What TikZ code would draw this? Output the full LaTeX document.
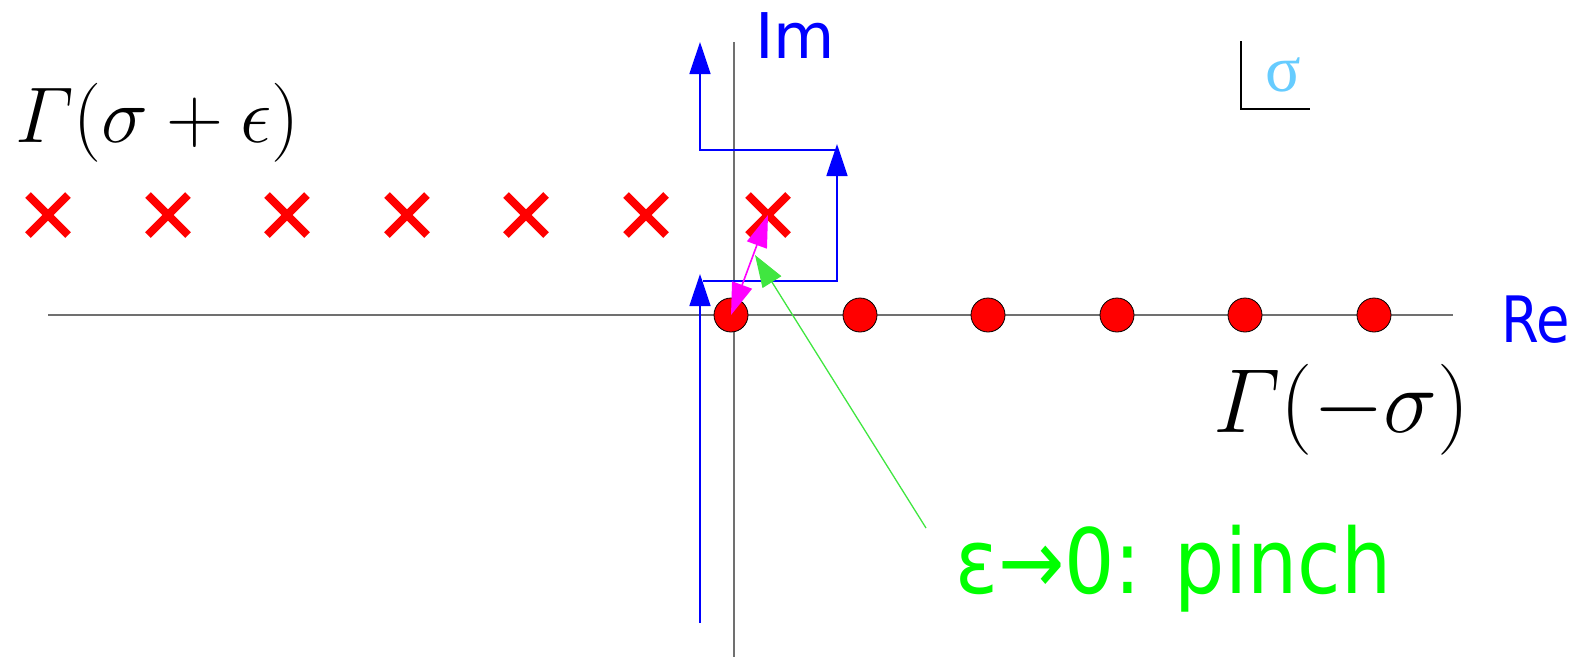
\RequirePackage{fix-cm}
\documentclass[tikz,border=0pt]{standalone}
\usepackage{amsmath}
\usepackage{fontspec}
\newfontfamily\comicf{DejaVu Sans}
\newfontfamily\serifg{Liberation Serif}
\usetikzlibrary{arrows.meta,shapes.misc}
\definecolor{axisgray}{RGB}{112,112,112}
\definecolor{sigblue}{RGB}{102,204,255}
\definecolor{pinchgreen}{RGB}{0,255,0}
\definecolor{arrgreen}{RGB}{64,230,64}
\definecolor{pinkarr}{RGB}{255,0,255}
\begin{document}
\begin{tikzpicture}[x=1pt,y=-1pt,
  axisline/.style={draw=axisgray,line width=2pt},
  contour/.style={draw=blue,line width=1.6pt,-{Triangle[length=32pt,width=21pt]}},
  pole/.style={circle,fill=red,draw=black,line width=0.8pt,minimum size=34pt,inner sep=0pt},
  zeromark/.style={cross out,draw=red,line width=8pt,minimum size=32pt,inner sep=0pt},
  pincharrow/.style={draw=pinkarr,line width=1.6pt,{Triangle[length=32pt,width=21pt]}-{Triangle[length=32pt,width=21pt]}},
  greenarrow/.style={draw=arrgreen,line width=1.3pt,-{Triangle[length=32pt,width=22pt]}},
  comictext/.style={inner sep=0pt,anchor=base west,text=blue},
  mathtext/.style={inner sep=0pt,anchor=base west,text=black}
]
\useasboundingbox (0,0) rectangle (1581,657);
% axes
\coordinate (reL) at (48,315);
\coordinate (reR) at (1453,315);
\coordinate (imT) at (734,42);
\coordinate (imB) at (734,657);
\draw[axisline] (reL) -- (reR);
\draw[axisline] (imT) -- (imB);
% contour
\coordinate (c0) at (700,623);
\coordinate (c1) at (700,274);
\coordinate (c2) at (703,281);
\coordinate (c3) at (837,281);
\coordinate (c4) at (837,144);
\coordinate (c5) at (837,150);
\coordinate (c6) at (700,150);
\coordinate (c7) at (700,42);
\draw[contour] (c0) -- (c1);
\draw[contour] (c2) -- (c3) -- (c4);
\draw[contour] (c5) -- (c6) -- (c7);
% poles of Gamma(-sigma)
\foreach \i/\x in {1/731,2/860,3/988,4/1117,5/1245,6/1374}
  \node[pole] (d\i) at (\x,315) {};
% poles of Gamma(sigma+eps)
\foreach \i/\x in {1/48,2/168,3/287,4/407,5/526,6/646,7/768}
  \node[zeromark] (x\i) at (\x,215) {};
% pinch arrows
\draw[pincharrow] (d1.center) -- (x7.center);
\coordinate (gstart) at (926,528);
\coordinate (gtip) at (755,255);
\draw[greenarrow] (gstart) -- (gtip);
% labels
\node[comictext,font=\comicf\fontsize{63}{63}\selectfont] (im) at (755,58) {Im};
\node[comictext,font=\comicf\fontsize{64}{64}\selectfont,xscale=0.85] (re) at (1501,342) {Re};
\node[comictext,text=pinchgreen,font=\comicf\fontsize{90}{90}\selectfont,xscale=0.88] (pinch) at (955,593) {ε→0: pinch};
\node[mathtext,font=\fontsize{79}{79}\selectfont] (gl) at (15,142) {$\varGamma(\sigma+\epsilon)$};
\node[mathtext,font=\fontsize{91}{91}\selectfont] (gr) at (1213,432) {$\varGamma(-\sigma)$};
% sigma box
\coordinate (sb1) at (1241,41);
\coordinate (sb2) at (1241,109);
\coordinate (sb3) at (1310,109);
\draw[black,line width=1.3pt] (sb1) -- (sb2) -- (sb3);
\node[inner sep=0pt,text=sigblue,font=\serifg\fontsize{66}{66}\selectfont] (sig) at (1283,75) {σ};
\end{tikzpicture}
\end{document}
